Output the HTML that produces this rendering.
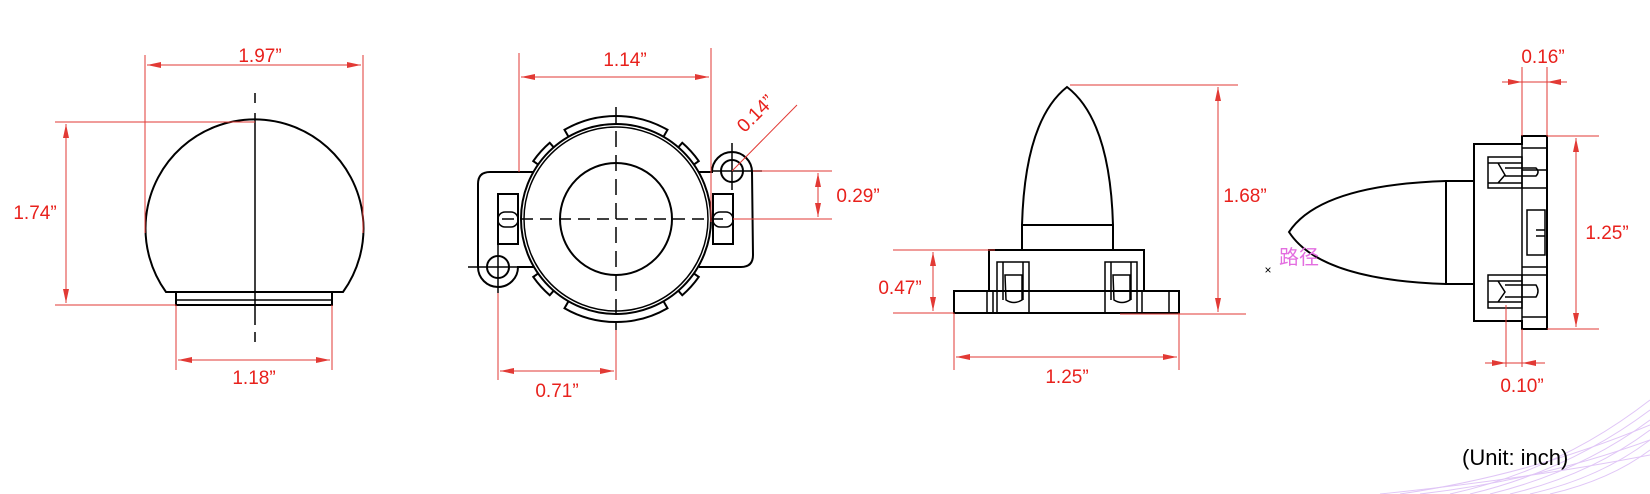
<!DOCTYPE html>
<html><head><meta charset="utf-8"><style>
html,body{margin:0;padding:0;background:#fff;}
svg{display:block;}
.d{stroke:#e23a35;stroke-width:1;fill:none;}
.k{stroke:#000;stroke-width:2;fill:none;}
.k1{stroke:#000;stroke-width:1.5;fill:none;}
.t{fill:#e8211c;font-family:"Liberation Sans",sans-serif;font-size:19px;text-anchor:middle;}
</style></head><body>
<svg width="1650" height="494" viewBox="0 0 1650 494" xmlns="http://www.w3.org/2000/svg">
<defs>
<marker id="a" viewBox="0 0 14 6" refX="14" refY="3" markerWidth="14" markerHeight="6" markerUnits="userSpaceOnUse" orient="auto-start-reverse"><path d="M0,0 L14,3 L0,6 Z" fill="#e23a35"/></marker>
</defs>

<!-- decorative bottom-right lines -->
<g stroke="#d9b8f5" stroke-width="1" fill="none" opacity="0.8">
<path d="M1450,494 Q1560,470 1650,400"/><path d="M1470,494 Q1570,470 1650,410"/><path d="M1490,494 Q1580,472 1650,420"/><path d="M1510,494 Q1590,475 1650,430"/><path d="M1530,494 Q1600,478 1650,440"/><path d="M1550,494 Q1610,480 1650,450"/><path d="M1400,494 Q1530,475 1650,425"/><path d="M1420,494 Q1540,480 1650,440"/><path d="M1380,494 Q1520,480 1650,455"/>
</g>

<!-- VIEW 1 -->
<path class="k" d="M166,292 A109 109 0 1 1 343,292 Z"/>
<rect class="k" x="176" y="292" width="156" height="13"/>
<line class="k1" x1="176" y1="300" x2="332" y2="300"/>
<line class="k1" x1="255" y1="93" x2="255" y2="103"/>
<line class="k1" x1="255" y1="113" x2="255" y2="325"/>
<line class="k1" x1="255" y1="332" x2="255" y2="342"/>
<line class="d" x1="145" y1="55" x2="145" y2="233"/>
<line class="d" x1="363" y1="55" x2="363" y2="233"/>
<line class="d" x1="147" y1="65" x2="361" y2="65" marker-start="url(#a)" marker-end="url(#a)"/>
<text class="t" x="260" y="62">1.97”</text>
<line class="d" x1="55" y1="122" x2="255" y2="122"/>
<line class="d" x1="55" y1="305" x2="176" y2="305"/>
<line class="d" x1="66" y1="124" x2="66" y2="303" marker-start="url(#a)" marker-end="url(#a)"/>
<text class="t" x="35" y="219">1.74”</text>
<line class="d" x1="176" y1="305" x2="176" y2="370"/>
<line class="d" x1="332" y1="305" x2="332" y2="370"/>
<line class="d" x1="178" y1="360" x2="330" y2="360" marker-start="url(#a)" marker-end="url(#a)"/>
<text class="t" x="254" y="384">1.18”</text>

<!-- VIEW 2 -->
<circle class="k" cx="616" cy="219" r="95"/>
<circle class="k1" cx="616" cy="219" r="92"/>
<circle class="k" cx="616" cy="219" r="56"/>
<g transform="translate(616,219)">
<path class="k" d="M-47.5,-82.27 L-51.5,-89.2 A103 103 0 0 1 51.5,-89.2 L47.5,-82.27"/>
<path class="k" transform="rotate(180)" d="M-47.5,-82.27 L-51.5,-89.2 A103 103 0 0 1 51.5,-89.2 L47.5,-82.27"/>
<path class="k" transform="rotate(-48)" d="M-11.58,-94.29 L-12.31,-100.25 A101 101 0 0 1 12.31,-100.25 L11.58,-94.29"/>
<path class="k" transform="rotate(48)" d="M-11.58,-94.29 L-12.31,-100.25 A101 101 0 0 1 12.31,-100.25 L11.58,-94.29"/>
<path class="k" transform="rotate(-132)" d="M-11.58,-94.29 L-12.31,-100.25 A101 101 0 0 1 12.31,-100.25 L11.58,-94.29"/>
<path class="k" transform="rotate(132)" d="M-11.58,-94.29 L-12.31,-100.25 A101 101 0 0 1 12.31,-100.25 L11.58,-94.29"/>
</g>
<path class="k" d="M533,172 L490,172 Q478,172 478,184 L478,267 A20 20 0 0 0 518,267 L534,267"/>
<circle class="k" cx="498" cy="267" r="11"/>
<rect class="k" x="498" y="194" width="20" height="50"/>
<rect class="k1" x="498" y="212" width="20" height="15" rx="7"/>
<path class="k" d="M699,172 L712,172 A20 20 0 0 1 752,172 L753,255 Q753,267 741,267 L699,267"/>
<circle class="k" cx="732" cy="171" r="11"/>
<rect class="k" x="713" y="194" width="20" height="50"/>
<rect class="k1" x="713" y="212" width="20" height="15" rx="7"/>
<line class="k1" x1="502" y1="219" x2="728" y2="219" stroke-dasharray="12,7"/>
<line class="k1" x1="616" y1="107" x2="616" y2="330" stroke-dasharray="16,8"/>
<line class="k1" x1="732" y1="143" x2="732" y2="190"/>
<line class="k1" x1="712" y1="171" x2="762" y2="171"/>
<line class="k1" x1="468" y1="267" x2="520" y2="267"/>
<line class="k1" x1="498" y1="245" x2="498" y2="293"/>
<line class="d" x1="519" y1="53" x2="519" y2="172"/>
<line class="d" x1="711" y1="48" x2="711" y2="222"/>
<line class="d" x1="521" y1="77" x2="709" y2="77" marker-start="url(#a)" marker-end="url(#a)"/>
<text class="t" x="625" y="66">1.14”</text>
<line class="d" x1="732" y1="171" x2="797" y2="105"/>
<text class="t" transform="translate(760,118) rotate(-45)" x="0" y="0">0.14”</text>
<line class="d" x1="753" y1="171" x2="832" y2="171"/>
<line class="d" x1="733" y1="219" x2="832" y2="219"/>
<line class="d" x1="818" y1="173" x2="818" y2="217" marker-start="url(#a)" marker-end="url(#a)"/>
<text class="t" x="858" y="202">0.29”</text>
<line class="d" x1="498" y1="293" x2="498" y2="380"/>
<line class="d" x1="616" y1="330" x2="616" y2="380"/>
<line class="d" x1="500" y1="371" x2="614" y2="371" marker-start="url(#a)" marker-end="url(#a)"/>
<text class="t" x="557" y="397">0.71”</text>

<!-- VIEW 3 -->
<path class="k" d="M1022,225 Q1025,120 1067,87 Q1110,120 1113,225"/>
<rect class="k" x="1022" y="225" width="91" height="25"/>
<rect class="k" x="989" y="250" width="155" height="41"/>
<rect class="k" x="954" y="291" width="225" height="22"/>
<line class="k1" x1="987" y1="291" x2="987" y2="313"/>
<line class="k1" x1="993" y1="291" x2="993" y2="313"/>
<line class="k1" x1="1142" y1="291" x2="1142" y2="313"/>
<line class="k1" x1="1169" y1="291" x2="1169" y2="313"/>
<rect x="997" y="262" width="32" height="51" fill="#fff" class="k1"/>
<rect x="1105" y="262" width="32" height="51" fill="#fff" class="k1"/>
<path class="k1" d="M1003,262 L1003,300 M1023,262 L1023,300 M1005,275 L1022,275 L1022,300 Q1014,305 1006,300 Z"/>
<path class="k1" d="M1111,262 L1111,300 M1131,262 L1131,300 M1113,275 L1130,275 L1130,300 Q1122,305 1114,300 Z"/>
<line class="d" x1="1070" y1="85" x2="1238" y2="85"/>
<line class="d" x1="1120" y1="314" x2="1246" y2="314"/>
<line class="d" x1="1218" y1="87" x2="1218" y2="312" marker-start="url(#a)" marker-end="url(#a)"/>
<text class="t" x="1245" y="202">1.68”</text>
<line class="d" x1="893" y1="250" x2="995" y2="250"/>
<line class="d" x1="893" y1="313" x2="954" y2="313"/>
<line class="d" x1="933" y1="252" x2="933" y2="311" marker-start="url(#a)" marker-end="url(#a)"/>
<text class="t" x="900" y="294">0.47”</text>
<line class="d" x1="954" y1="313" x2="954" y2="370"/>
<line class="d" x1="1179" y1="313" x2="1179" y2="370"/>
<line class="d" x1="956" y1="357" x2="1177" y2="357" marker-start="url(#a)" marker-end="url(#a)"/>
<text class="t" x="1067" y="383">1.25”</text>

<!-- VIEW 4 -->
<path class="k" d="M1446,181 Q1320,185 1289,232 Q1320,280 1446,284"/>
<rect class="k" x="1446" y="181" width="28" height="103"/>
<path class="k" d="M1474,144 L1522,144 L1522,136 L1547,136 L1547,329 L1522,329 L1522,321 L1474,321 Z"/>
<line class="k1" x1="1522" y1="144" x2="1522" y2="321"/>
<line class="k1" x1="1522" y1="148" x2="1547" y2="148"/>
<line class="k1" x1="1522" y1="170" x2="1547" y2="170"/>
<line class="k1" x1="1522" y1="188" x2="1547" y2="188"/>
<line class="k1" x1="1522" y1="267" x2="1547" y2="267"/>
<line class="k1" x1="1522" y1="275" x2="1547" y2="275"/>
<line class="k1" x1="1522" y1="317" x2="1547" y2="317"/>
<rect class="k1" x="1488" y="157" width="34" height="31"/>
<path class="k1" d="M1488,163 L1522,163 M1488,183 L1522,183 M1498,163 L1505,175 L1498,183 M1505,168 L1536,168 Q1540,172 1536,176 L1505,176"/>
<rect class="k1" x="1488" y="275" width="34" height="33"/>
<path class="k1" d="M1488,281 L1522,281 M1488,302 L1522,302 M1498,281 L1505,292 L1498,302 M1505,285 L1536,285 Q1540,291 1536,297 L1505,297"/>
<rect class="k1" x="1527" y="210" width="18" height="45"/>
<line class="k1" x1="1536" y1="230" x2="1545" y2="230"/>
<line class="k1" x1="1536" y1="236" x2="1545" y2="236"/>
<line class="d" x1="1522" y1="67" x2="1522" y2="136"/>
<line class="d" x1="1547" y1="67" x2="1547" y2="136"/>
<line class="d" x1="1502" y1="82" x2="1522" y2="82" marker-end="url(#a)"/>
<line class="d" x1="1567" y1="82" x2="1547" y2="82" marker-end="url(#a)"/>
<line class="d" x1="1522" y1="82" x2="1547" y2="82"/>
<text class="t" x="1543" y="63">0.16”</text>
<line class="d" x1="1547" y1="136" x2="1599" y2="136"/>
<line class="d" x1="1547" y1="329" x2="1599" y2="329"/>
<line class="d" x1="1576" y1="138" x2="1576" y2="327" marker-start="url(#a)" marker-end="url(#a)"/>
<text class="t" x="1607" y="239">1.25”</text>
<line class="d" x1="1506" y1="305" x2="1506" y2="367"/>
<line class="d" x1="1522" y1="329" x2="1522" y2="367"/>
<line class="d" x1="1485" y1="363" x2="1506" y2="363" marker-end="url(#a)"/>
<line class="d" x1="1545" y1="363" x2="1522" y2="363" marker-end="url(#a)"/>
<line class="d" x1="1506" y1="363" x2="1522" y2="363"/>
<text class="t" x="1522" y="392">0.10”</text>
<text x="1268" y="274" font-family="'Liberation Sans',sans-serif" font-size="12" text-anchor="middle" fill="#000">×</text>
<text x="1279" y="264" font-family="'Liberation Sans','Noto Sans CJK SC',sans-serif" font-size="20" fill="#e36ee0">路径</text>
<text x="1462" y="465" font-family="'Liberation Sans',sans-serif" font-size="22" fill="#000">(Unit: inch)</text>
</svg>
</body></html>
